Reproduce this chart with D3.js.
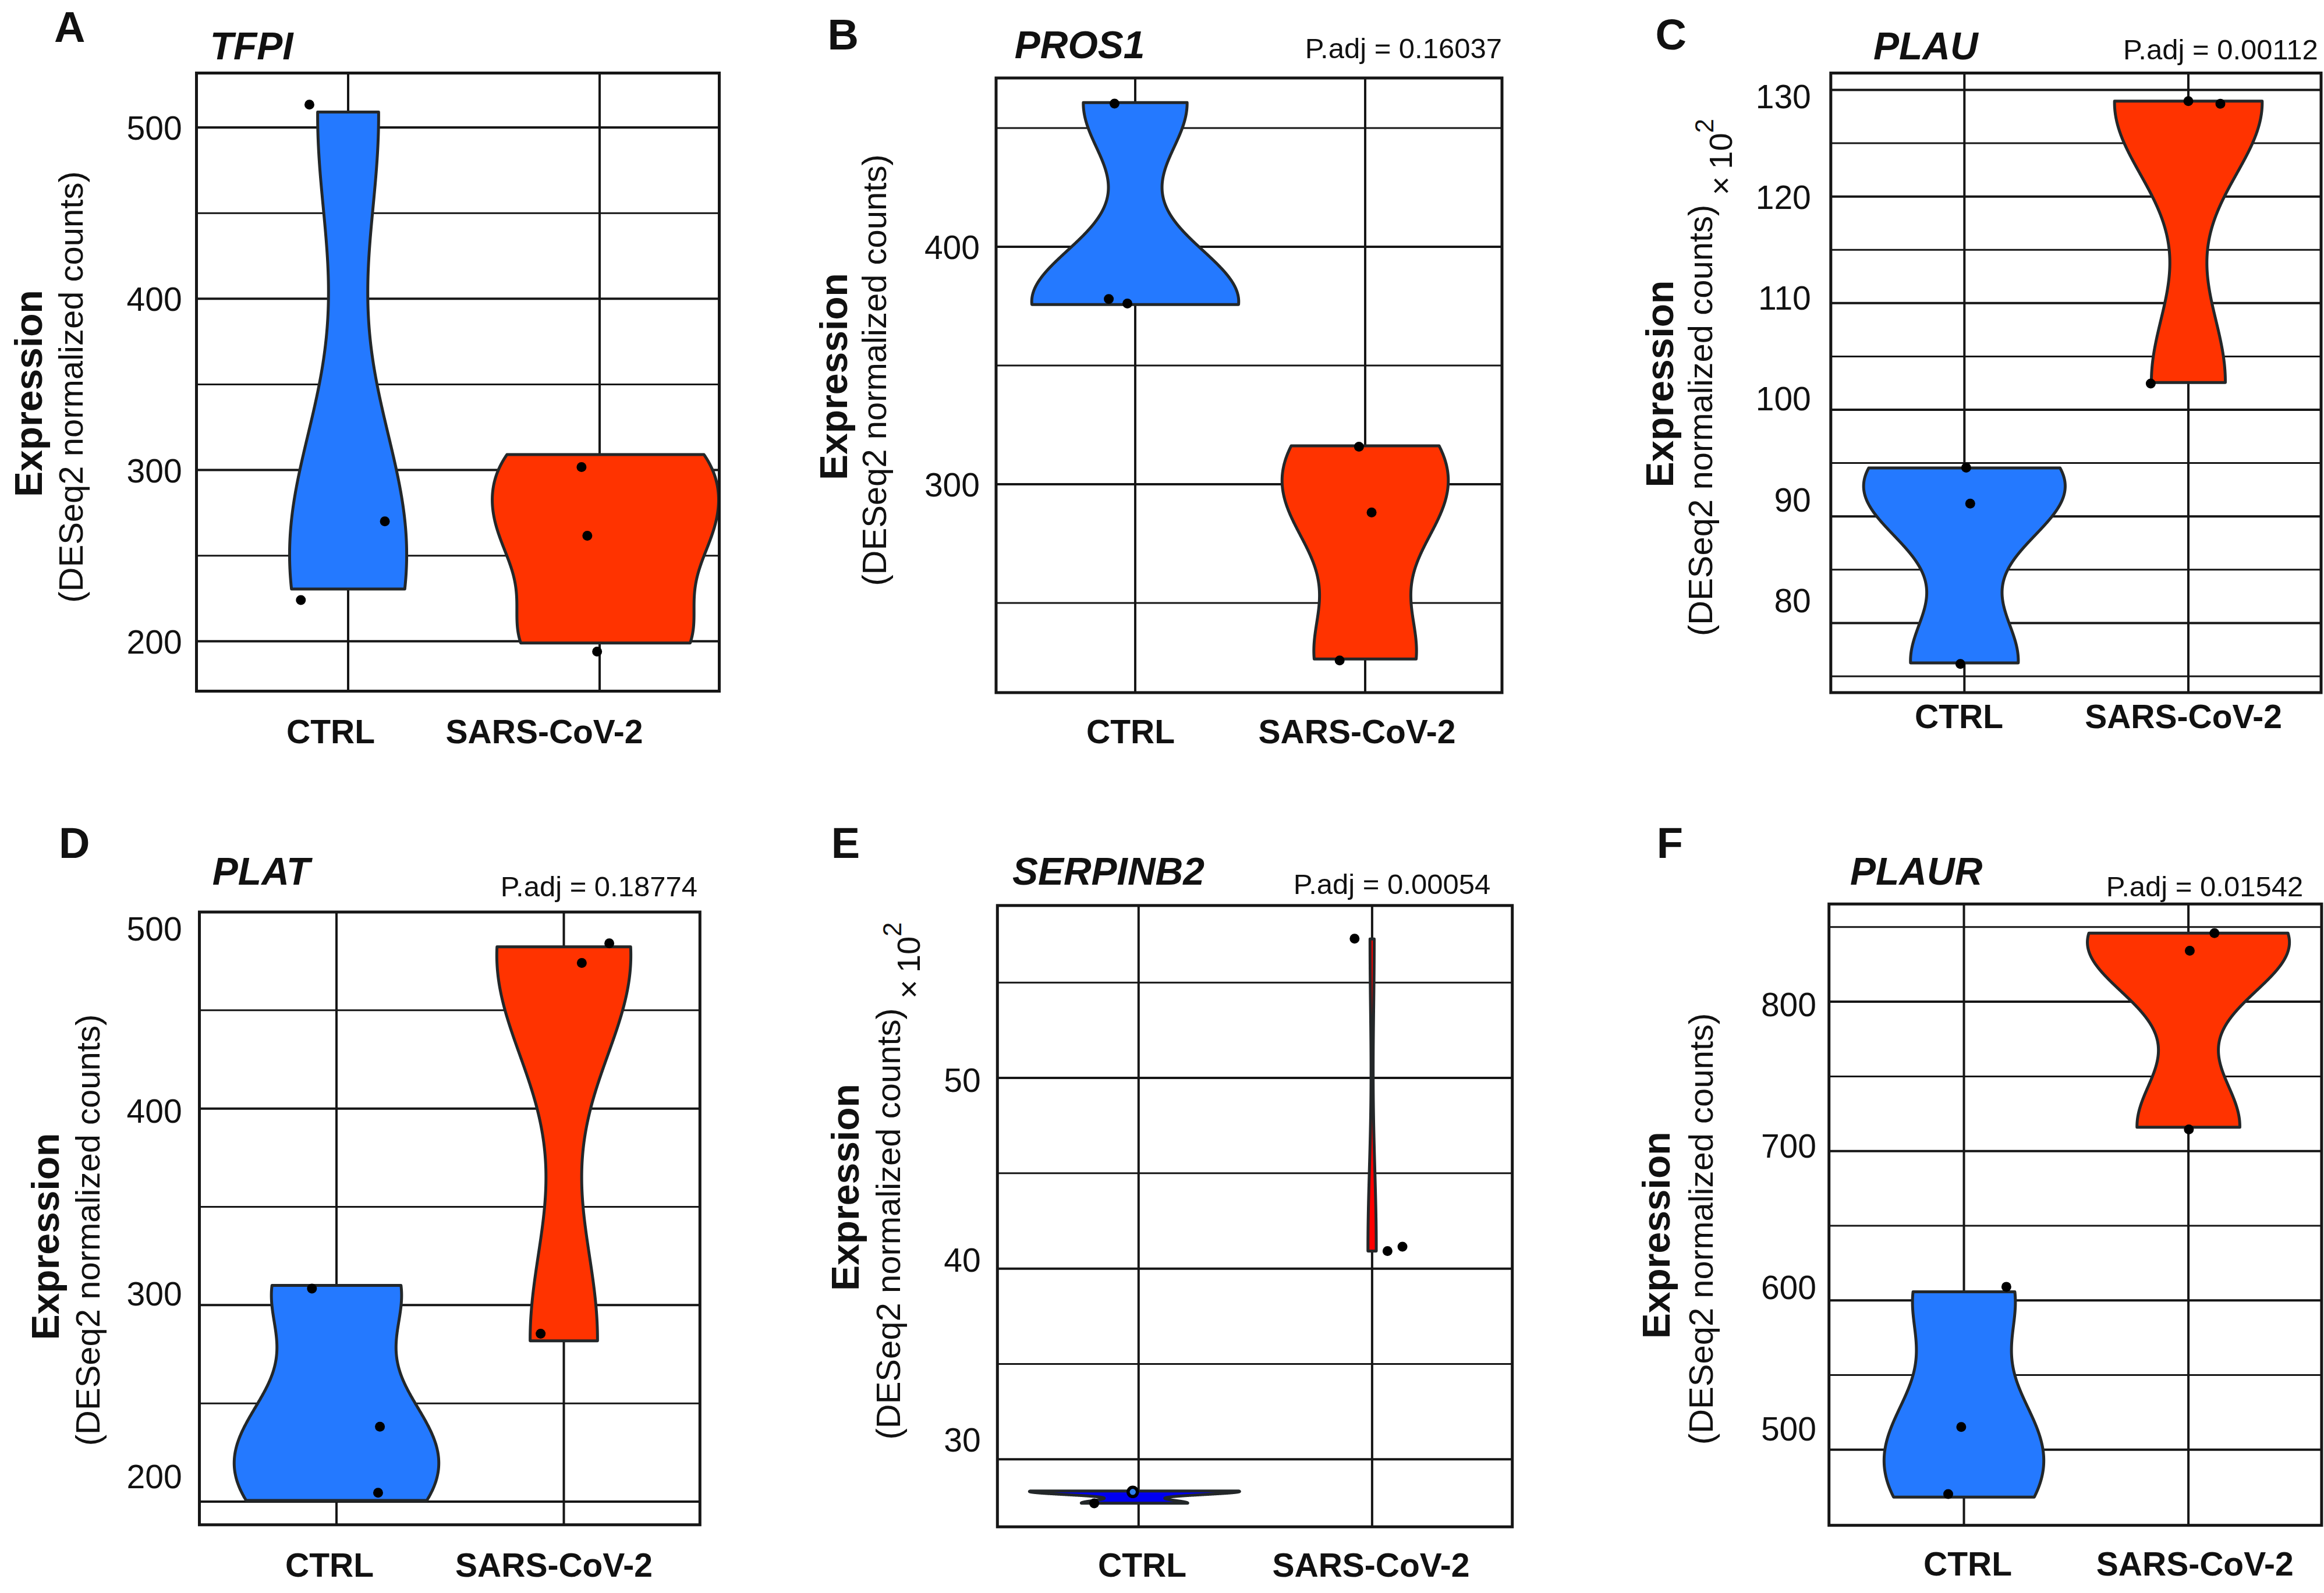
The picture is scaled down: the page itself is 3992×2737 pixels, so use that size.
<!DOCTYPE html>
<html><head><meta charset="utf-8">
<script src="https://cdn.jsdelivr.net/npm/d3@7"></script>
<style>
html,body{margin:0;padding:0;background:#fff;}
svg text{font-family:"Liberation Sans",Arial,Helvetica,sans-serif;fill:#111;}
</style></head><body>
<svg id="fig" width="3992" height="2737" xmlns="http://www.w3.org/2000/svg"></svg>
<script>
// ---------------- DATA ----------------
const groups = ["CTRL", "SARS-CoV-2"];
const genes = ["TFPI", "PROS1", "PLAU", "PLAT", "SERPINB2", "PLAUR"];
const panelLetters = ["A", "B", "C", "D", "E", "F"];
const pAdjValues = [null, "0.16037", "0.00112", "0.18774", "0.00054", "0.01542"];
const scaledBy100 = [false, false, true, false, true, false];

// expression values per sample (PLAU and SERPINB2 in units of 10^2)
const tfpiCtrl = [230.5, 270, 509];
const tfpiSars = [199, 262, 309];
const pros1Ctrl = [375.7, 378, 460.7];
const pros1Sars = [226.4, 288, 316.2];
const plauCtrl = [76.26, 91.2, 94.54];
const plauSars = [102.55, 128.7, 128.94];
const platCtrl = [200.6, 237, 310];
const platSars = [281.8, 474, 482.3];
const serpinb2Ctrl = [27.70, 28.29, 28.34];
const serpinb2Sars = [40.92, 41.15, 57.29];
const plaurCtrl = [468.3, 515, 605.7];
const plaurSars = [715.9, 834, 845.9];

// jittered points as drawn: [x jitter (fraction of group spacing), value]
const tfpiCtrlDots = [[-0.154, 513.3], [0.146, 270], [-0.188, 224.1]];
const tfpiSarsDots = [[-0.072, 301.7], [-0.049, 261.6], [-0.010, 194]];
const pros1CtrlDots = [[-0.090, 460.3], [-0.115, 378], [-0.034, 376.1]];
const pros1SarsDots = [[-0.027, 315.8], [0.028, 288.1], [-0.111, 225.8]];
const plauCtrlDots = [[0.008, 94.57], [0.026, 91.2], [-0.018, 76.16]];
const plauSarsDots = [[0.0, 128.94], [0.143, 128.7], [-0.168, 102.46]];
const platCtrlDots = [[-0.108, 308.4], [0.191, 238.1], [0.183, 204.5]];
const platSarsDots = [[0.200, 484.1], [0.079, 474.1], [-0.102, 285.4]];
const serpinb2CtrlDots = [[-0.190, 27.69], [-0.025, 28.30]];
const serpinb2CtrlHighlight = [[-0.025, 28.29]];
const serpinb2SarsDots = [[-0.075, 57.30], [0.066, 40.92], [0.130, 41.15]];
const plaurCtrlDots = [[0.189, 609.1], [-0.012, 515.2], [-0.070, 470.3]];
const plaurSarsDots = [[0.116, 845.9], [0.006, 834.1], [0.002, 714.5]];

// y ticks
const majorTicks = [[200, 300, 400, 500], [300, 400], [80, 90, 100, 110, 120, 130],
                    [200, 300, 400, 500], [30, 40, 50], [500, 600, 700, 800]];
const minorTicks = [[250, 350, 450], [250, 350, 450], [75, 85, 95, 105, 115, 125],
                    [250, 350, 450], [35, 45, 55], [550, 650, 750, 850]];
const tickLabels = [["200", "300", "400", "500"], ["300", "400"], ["80", "90", "100", "110", "120", "130"],
                    ["200", "300", "400", "500"], ["30", "40", "50"], ["500", "600", "700", "800"]];

const panelData = [
  {ctrl: tfpiCtrl, sars: tfpiSars, ctrlDots: tfpiCtrlDots, sarsDots: tfpiSarsDots},
  {ctrl: pros1Ctrl, sars: pros1Sars, ctrlDots: pros1CtrlDots, sarsDots: pros1SarsDots},
  {ctrl: plauCtrl, sars: plauSars, ctrlDots: plauCtrlDots, sarsDots: plauSarsDots},
  {ctrl: platCtrl, sars: platSars, ctrlDots: platCtrlDots, sarsDots: platSarsDots},
  {ctrl: serpinb2Ctrl, sars: serpinb2Sars, ctrlDots: serpinb2CtrlDots, sarsDots: serpinb2SarsDots, highlight: serpinb2CtrlHighlight},
  {ctrl: plaurCtrl, sars: plaurSars, ctrlDots: plaurCtrlDots, sarsDots: plaurSarsDots}
];

// ---------------- LAYOUT ----------------
const layout = [
  {box: [337.5, 125.5, 1235.5, 1187.5], cat: [598, 1030], yDom: [170.88, 531.77], lab: null, labRight: 312.6,
   title: [360.7, 102], padj: null, letter: [93, 72], xlabOff: [-30, -95], xlabBase: 1276.5,
   ylab: {expr: 72.3, sub: 141.7, cy: 676}, colors: ["#2479ff", "#ff3300"], vShift: [0, 10]},
  {box: [1711, 134, 2580, 1190], cat: [1950, 2345], yDom: [212.25, 471.08], lab: null, labRight: 1683,
   title: [1742.8, 100], padj: [2580, 100], letter: [1421.5, 85], xlabOff: [-8, -14], xlabBase: 1276.5,
   ylab: {expr: 1455.3, sub: 1522, cy: 647}, colors: ["#2479ff", "#ff3300"], vShift: [0, 0]},
  {box: [3144.8, 125.5, 3987, 1190], cat: [3374.3, 3759], yDom: [73.47, 131.58], lab: {dom: [80, 130], rng: [1030.5, 165.4]}, labRight: 3110.8,
   title: [3218, 102], padj: [3981.7, 102], letter: [2843.4, 85], xlabOff: [-9.3, -8.4], xlabBase: 1251,
   ylab: {expr: 2873.7, sub: 2941, cy: 659.5}, colors: ["#2479ff", "#ff3300"], vShift: [0, 0]},
  {box: [342.5, 1567, 1202.3, 2619.8], cat: [578, 968.5], yDom: [188.2, 500], lab: {dom: [200, 500], rng: [2535.8, 1594.7]}, labRight: 312.6,
   title: [364.8, 1520.3], padj: [1198, 1540], letter: [101, 1473.5], xlabOff: [-12, -17], xlabBase: 2709,
   ylab: {expr: 101.2, sub: 170.5, cy: 2124.5}, colors: ["#2479ff", "#ff3300"], vShift: [0, 0]},
  {box: [1713.3, 1555.8, 2597.7, 2623.3], cat: [1955.8, 2356.9], yDom: [26.46, 59.04], lab: {dom: [30, 50], rng: [2472.6, 1854.5]}, labRight: 1684.6,
   title: [1738.9, 1520.3], padj: [2560.2, 1535.8], letter: [1427.8, 1473.5], xlabOff: [6.2, -2], xlabBase: 2709,
   ylab: {expr: 1475.1, sub: 1545.6, cy: 2040}, colors: ["#0000f0", "#ff0000"], vShift: [-7, 0]},
  {box: [3141.7, 1553.2, 3987.9, 2620.7], cat: [3373.5, 3759.1], yDom: [449.37, 865.44], lab: {dom: [500, 800], rng: [2453.6, 1724.6]}, labRight: 3120,
   title: [3178, 1520.3], padj: [3956.2, 1540.2], letter: [2845.7, 1473.5], xlabOff: [6.6, 11.2], xlabBase: 2707,
   ylab: {expr: 2867.5, sub: 2941.8, cy: 2122.4}, colors: ["#2479ff", "#ff3300"], vShift: [0, 0]}
];

const INK = "#161616";
const OUTLINE = "#232729";

// ---------------- KDE (R density, bw.nrd0, trimmed) ----------------
function q7(s, p) { const h = (s.length - 1) * p, lo = Math.floor(h), hi = Math.ceil(h); return s[lo] + (h - lo) * (s[hi] - s[lo]); }
function bwNrd0(x) {
  const s = x.slice().sort((a, b) => a - b);
  const hi = d3.deviation(x);
  let lo = Math.min(hi, (q7(s, 0.75) - q7(s, 0.25)) / 1.34);
  if (!(lo > 0)) lo = hi || Math.abs(s[0]) || 1;
  return 0.9 * lo * Math.pow(x.length, -0.2);
}
function kde(x, n = 512) {
  const bw = bwNrd0(x), [mn, mx] = d3.extent(x);
  return d3.range(n).map(i => {
    const v = mn + (mx - mn) * i / (n - 1);
    const d = d3.sum(x, xi => Math.exp(-0.5 * ((v - xi) / bw) ** 2)) / (x.length * bw * Math.sqrt(2 * Math.PI));
    return [v, d];
  });
}

// ---------------- DRAW ----------------
const svg = d3.select("#fig");
svg.append("rect").attr("width", 3992).attr("height", 2737).attr("fill", "#fff");

panelData.forEach((pd, i) => {
  const L = layout[i];
  const [bx0, by0, bx1, by1] = L.box;
  const g = svg.append("g");
  const x = d3.scaleLinear().domain([0, 1]).range(L.cat);
  const y = d3.scaleLinear().domain(L.yDom).range([by1, by0]);
  const spacing = L.cat[1] - L.cat[0];

  g.append("rect").attr("x", bx0).attr("y", by0).attr("width", bx1 - bx0).attr("height", by1 - by0).attr("fill", "#fff");

  // gridlines
  g.selectAll(".minor").data(minorTicks[i].filter(v => v > L.yDom[0] && v < L.yDom[1])).join("line")
    .attr("x1", bx0).attr("x2", bx1).attr("y1", d => y(d)).attr("y2", d => y(d))
    .attr("stroke", INK).attr("stroke-width", 3);
  g.selectAll(".major").data(majorTicks[i].filter(v => v >= L.yDom[0] && v <= L.yDom[1])).join("line")
    .attr("x1", bx0).attr("x2", bx1).attr("y1", d => y(d)).attr("y2", d => y(d))
    .attr("stroke", INK).attr("stroke-width", 4);
  g.selectAll(".vgrid").data([0, 1]).join("line")
    .attr("x1", d => x(d)).attr("x2", d => x(d)).attr("y1", by0).attr("y2", by1)
    .attr("stroke", INK).attr("stroke-width", 4);

  // violins (scale = "area")
  const dens = [kde(pd.ctrl), kde(pd.sars)];
  const maxD = d3.max(dens, a => d3.max(a, d => d[1]));
  const half = 0.45 * spacing;
  const line = d3.line();
  dens.forEach((dd, k) => {
    const cx = x(k) + L.vShift[k];
    const right = dd.map(([v, d]) => [cx + half * d / maxD, y(v)]);
    const left = dd.slice().reverse().map(([v, d]) => [cx - half * d / maxD, y(v)]);
    g.append("path").attr("d", line(right.concat(left)) + "Z")
      .attr("fill", L.colors[k]).attr("stroke", OUTLINE).attr("stroke-width", 5)
      .attr("stroke-linejoin", "round");
  });

  // points
  [pd.ctrlDots, pd.sarsDots].forEach((dots, k) => {
    g.selectAll(null).data(dots).join("circle")
      .attr("cx", d => x(k + d[0])).attr("cy", d => y(d[1])).attr("r", 8.5).attr("fill", "#000");
  });
  if (pd.highlight) {
    g.selectAll(null).data(pd.highlight).join("circle")
      .attr("cx", d => x(d[0])).attr("cy", d => y(d[1])).attr("r", 8)
      .attr("fill", "#2d7fef").attr("stroke", "#000").attr("stroke-width", 5.5);
  }

  // box border
  g.append("rect").attr("x", bx0).attr("y", by0).attr("width", bx1 - bx0).attr("height", by1 - by0)
    .attr("fill", "none").attr("stroke", INK).attr("stroke-width", 5);

  // y tick labels
  const ly = L.lab ? d3.scaleLinear().domain(L.lab.dom).range(L.lab.rng) : y;
  const axis = d3.axisLeft(ly).tickValues(majorTicks[i]).tickSize(0).tickPadding(0)
    .tickFormat((d, j) => tickLabels[i][j]);
  const ag = g.append("g").attr("transform", `translate(${L.labRight},0)`).call(axis);
  ag.select(".domain").remove();
  ag.selectAll("text").attr("font-size", 57).attr("fill", "#111").attr("dy", "0.36em")
    .style("font-family", '"Liberation Sans",Arial,Helvetica,sans-serif');

  // x category labels
  g.selectAll(null).data(groups).join("text")
    .attr("x", (d, k) => x(k) + L.xlabOff[k]).attr("y", L.xlabBase)
    .attr("text-anchor", "middle").attr("font-size", 57).attr("font-weight", "bold").text(d => d);

  // title
  g.append("text").attr("x", L.title[0]).attr("y", L.title[1])
    .attr("font-size", 66).attr("font-weight", "bold").attr("font-style", "italic").text(genes[i]);
  if (pAdjValues[i]) {
    g.append("text").attr("x", L.padj[0]).attr("y", L.padj[1]).attr("text-anchor", "end")
      .attr("font-size", 49).text("P.adj = " + pAdjValues[i]);
  }
  // panel letter
  g.append("text").attr("x", L.letter[0]).attr("y", L.letter[1])
    .attr("font-size", 74).attr("font-weight", "bold").text(panelLetters[i]);

  // y axis titles
  g.append("text").attr("transform", `translate(${L.ylab.expr},${L.ylab.cy}) rotate(-90)`)
    .attr("text-anchor", "middle").attr("font-size", 66).attr("font-weight", "bold").text("Expression");
  const st = g.append("text").attr("transform", `translate(${L.ylab.sub},${L.ylab.cy - 11}) rotate(-90)`)
    .attr("text-anchor", "middle").attr("font-size", 58);
  if (scaledBy100[i]) {
    st.append("tspan").text("(DESeq2 normalized counts) ");
    st.append("tspan").attr("dy", 34).attr("font-size", 56).text("\u00d7");
    st.append("tspan").attr("dx", 12).attr("font-size", 56).text("10");
    st.append("tspan").attr("dy", -32).attr("font-size", 44).text("2");
  } else {
    st.text("(DESeq2 normalized counts)");
  }
});
</script>
</body></html>
